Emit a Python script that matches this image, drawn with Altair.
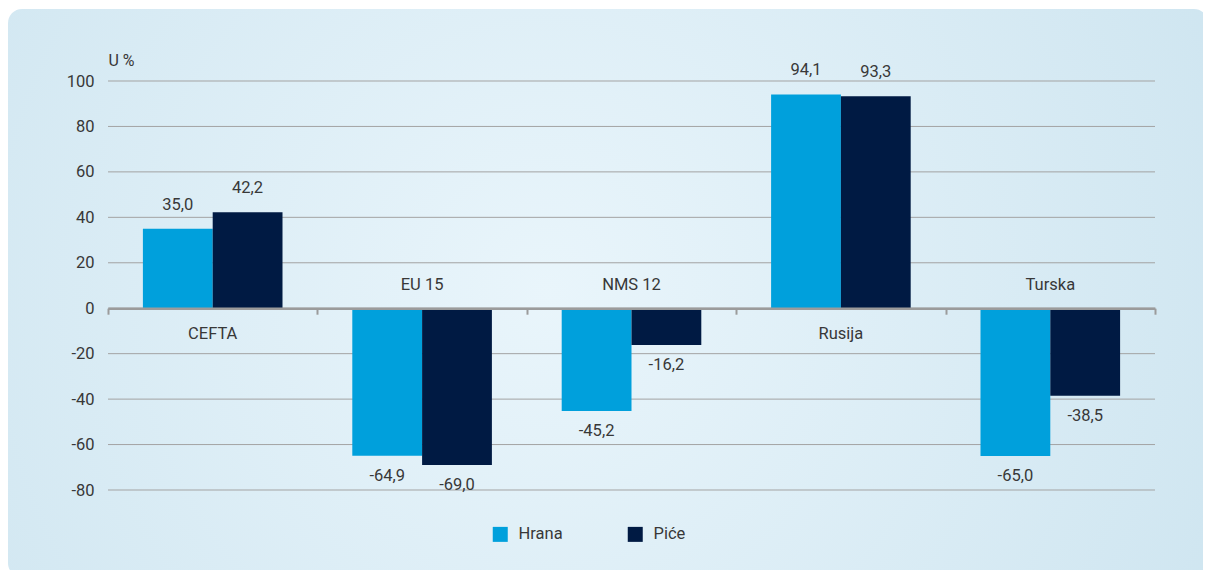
import altair as alt
import pandas as pd

categories = ["CEFTA", "EU 15", "NMS 12", "Rusija", "Turska"]
series = ["Hrana", "Piće"]
hrana = [35.0, -64.9, -45.2, 94.1, -65.0]
pice = [42.2, -69.0, -16.2, 93.3, -38.5]
y_ticks = [-80, -60, -40, -20, 0, 20, 40, 60, 80, 100]
colors = ["#00a0dc", "#001a43"]

W, H = 1047, 409
FONT = "Roboto"
TXT = "#383838"

rows = []
for s, vals in zip(series, [hrana, pice]):
    for c, v in zip(categories, vals):
        rows.append({"cat": c, "series": s, "value": v,
                     "label": f"{v:.1f}".replace(".", ",")})
bars_df = pd.DataFrame(rows)

cat_df = pd.DataFrame({
    "cat": categories,
    "value": [0] * len(categories),
    "pos": [h > 0 for h in hrana],
})
grid_df = pd.DataFrame({"value": y_ticks})
panel_df = pd.DataFrame({"a": [0]})

yscale = alt.Scale(domain=[-80, 100], nice=False, zero=False)
yaxis = alt.Axis(values=y_ticks, title="U %", titleAngle=0, titleAlign="left",
                 titleBaseline="middle", titleX=0, titleY=-21, titleFontWeight="normal",
                 titleFontSize=16, titleColor=TXT, titleFont=FONT,
                 labelExpr="'' + datum.value",
                 domain=False, ticks=False, grid=False, labelPadding=14,
                 labelFontSize=16.5, labelColor=TXT, labelFont=FONT, zindex=1)
Y = alt.Y("value:Q", scale=yscale, axis=yaxis)

xaxis = alt.Axis(labels=False, title=None, domain=True, domainColor="#9b9b9b",
                 domainWidth=2.5, ticks=True, tickColor="#9b9b9b", tickSize=6,
                 tickWidth=2, tickBand="extent", offset=-181.8, grid=False, zindex=1)
X = alt.X("cat:N", scale=alt.Scale(domain=categories, paddingInner=0, paddingOuter=0),
          axis=xaxis)
XO = alt.XOffset("series:N", scale=alt.Scale(domain=series, paddingOuter=0.5, paddingInner=0))

panel = alt.Chart(panel_df).mark_rect(
    cornerRadius=14,
    fill=alt.RadialGradient(
        gradient="radial",
        stops=[alt.GradientStop(offset=0, color="#e9f5fb"),
               alt.GradientStop(offset=1, color="#c9e2ee")],
        x1=0.45, y1=0.5, x2=0.45, y2=0.5, r1=0, r2=0.75),
).encode(x=alt.value(-100), x2=alt.value(1100), y=alt.value(-72), y2=alt.value(496))

grid = alt.Chart(grid_df).mark_rule(color="#a3a3a3", strokeWidth=1).encode(
    y=Y, x=alt.value(0), x2=alt.value(W))

bars = alt.Chart(bars_df).mark_bar(width=alt.RelativeBandSize(1.0)).encode(
    x=X, xOffset=XO, y=Y,
    color=alt.Color("series:N", scale=alt.Scale(domain=series, range=colors),
                    legend=alt.Legend(title=None, orient="none", legendX=384, legendY=445,
                                      direction="horizontal", symbolType="square",
                                      symbolSize=225, symbolStrokeWidth=0,
                                      labelFontSize=16.5, labelColor=TXT, labelFont=FONT,
                                      columnPadding=64, labelOffset=10, padding=0,
                                      zindex=1)),
)

pos_labels = alt.Chart(bars_df).transform_filter("datum.value > 0").mark_text(
    dy=-24, baseline="middle", fontSize=16.5, color=TXT, font=FONT).encode(
    x=X, xOffset=XO, y=Y, text="label:N")
neg_labels = alt.Chart(bars_df).transform_filter("datum.value < 0").mark_text(
    dy=20, baseline="middle", fontSize=16.5, color=TXT, font=FONT).encode(
    x=X, xOffset=XO, y=Y, text="label:N")

cat_below = alt.Chart(cat_df).transform_filter("datum.pos").mark_text(
    dy=26, baseline="middle", fontSize=16.5, color=TXT, font=FONT).encode(
    x=X, y=Y, text="cat:N")
cat_above = alt.Chart(cat_df).transform_filter("!datum.pos").mark_text(
    dy=-23, baseline="middle", fontSize=16.5, color=TXT, font=FONT).encode(
    x=X, y=Y, text="cat:N")

chart = alt.layer(panel, grid, bars, pos_labels, neg_labels, cat_below, cat_above).properties(
    width=W, height=H,
    autosize=alt.AutoSizeParams(type="none"),
    padding={"left": 100, "top": 73, "right": 48, "bottom": 80},
    background="white",
).configure_view(stroke=None).configure(font=FONT)

chart.save("out.html", embed_options={"renderer": "svg", "actions": False})
